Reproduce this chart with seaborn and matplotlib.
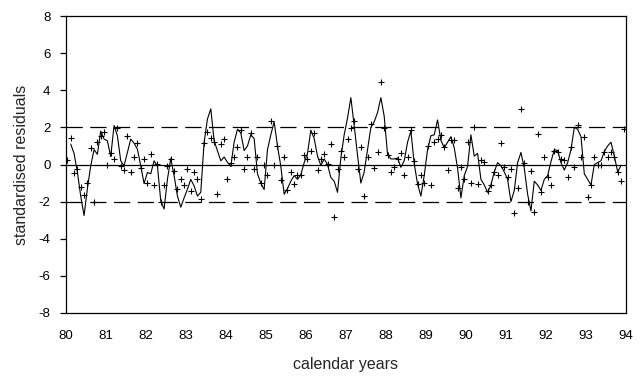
import numpy as np
import pandas as pd
import matplotlib
matplotlib.use("Agg")
import matplotlib.pyplot as plt
import seaborn as sns

# monthly standardised residuals (markers), Jan 1980 .. Dec 1993
residuals = [
    0.25, 1.41, -0.47, -0.22, -1.23, -1.66, -0.97, 0.9, -2.0, 1.22, 1.51, 1.73,
    0.0, 0.61, 0.29, 1.95, -0.07, -0.32, 1.51, -0.43, 0.43, 1.15, -0.18, 0.29,
    -1.0, 0.54, -1.12, 0.04, -2.0, -1.12, -0.07, 0.32, -0.34, -1.3, -0.8, -1.08,
    -0.22, -1.44, -0.43, -0.79, -1.84, 1.15, 1.77, 1.44, 1.19, -1.59, 1.12, 1.4,
    -0.79, 0.1, 0.4, 0.97, 1.86, -0.25, 0.43, 1.69, -0.25, 0.38, -1.0, -0.04,
    -0.58, 2.32, -0.04, 1.0, -0.83, 0.38, -1.4, -0.43, -1.06, -0.58, -0.54, 0.5,
    0.32, 0.74, 1.69, -0.29, 0.29, 0.56, 0.04, 1.08, -2.85, -0.25, 0.74, 0.38,
    1.4, 1.95, 2.36, -0.25, 0.92, -1.69, 0.38, 2.2, -0.18, 0.65, 4.43, 1.95,
    0.5, -0.43, -0.16, 0.29, 0.61, -0.54, 0.38, 1.84, 0.18, -1.04, -0.54, -1.0,
    1.0, -1.12, 1.22, 1.37, 1.59, 0.97, -0.29, 1.33, 1.33, -1.26, -0.16, -0.76,
    1.22, -0.97, 2.0, -1.06, 0.25, 0.14, -1.41, -1.12, -0.4, -0.58, 1.15, -0.11,
    -0.7, -0.22, -2.6, -1.26, 3.0, 0.1, -2.0, -0.36, -2.56, 1.62, -1.5, 0.38,
    -0.65, -1.12, 0.74, 0.65, 0.29, 0.25, -0.65, 0.97, -0.11, 2.13, 0.38, 1.46,
    -1.77, -1.12, 0.43, -0.04, -0.04, 0.68, 0.38, 0.68, 0.43, -0.4, -0.88, 1.91,
]

# smoothed residual line
smoothed = [
    np.nan, 1.1, 0.6, -0.4, -1.7, -2.75, -1.3, -0.07, 0.8, 0.55, 1.8, 1.37,
    1.28, 0.43, 2.1, 1.55, 0.2, -0.07, 0.65, 1.37, 1.15, 0.83, -0.07, -1.03,
    -0.43, -0.5, 0.2, -0.07, -1.96, -2.4, -0.8, 0.32, -0.6, -1.7, -2.3, -1.8,
    -1.33, -0.8, -1.15, -1.7, -1.5, 1.19, 2.45, 3.0, 1.28, 0.74, 0.2, 0.4,
    0.12, -0.1, 1.2, 1.9, 1.7, 0.75, 1.0, 1.6, 1.4, -0.5, -1.0, -1.35,
    0.8, 1.6, 2.3, 1.0, -0.1, -1.6, -1.3, -0.9, -0.6, -0.8, -0.55, 0.1,
    0.6, 1.85, 1.4, 0.45, -0.05, 0.3, 0.0, -0.7, -0.9, -1.5, 0.35, 1.6,
    2.5, 3.6, 2.1, 0.5, -1.0, -0.4, 0.8, 2.0, 2.3, 2.8, 3.6, 2.6,
    0.55, 0.3, 0.3, 0.35, -0.15, 0.2, 1.2, 1.8, 0.05, -1.05, -1.7, -0.6,
    0.8, 1.55, 1.6, 2.4, 1.3, 0.9, 1.2, 1.5, 0.9, -0.2, -1.8, -0.6,
    -0.1, 1.6, 0.45, 0.6, -0.8, -1.1, -1.5, -1.1, -0.4, 0.1, -0.07, -0.4,
    -0.8, -2.0, -1.4, 0.1, 0.65, -0.2, -1.6, -2.5, -0.9, -1.1, -1.4, -0.8,
    -0.6, 0.15, 0.8, 0.75, 0.1, -0.3, 0.1, 0.8, 2.0, 1.9, 1.5, -0.5,
    -0.8, -1.1, 0.0, 0.1, 0.2, 0.7, 1.0, 1.2, 0.45, -0.4, -0.05, np.nan,
]

start_year = 80
x_ticks = list(range(80, 95))
y_ticks = list(range(-8, 9, 2))

months = np.arange(len(residuals))
df = pd.DataFrame({
    "year": start_year + (months + 0.5) / 12.0,
    "resid": residuals,
    "smooth": smoothed,
})

sns.set_style("white")
plt.rcParams["font.family"] = ["Liberation Sans", "DejaVu Sans"]

fig = plt.figure(figsize=(6.41, 3.84), dpi=100)
ax = fig.add_axes([0.1025, 0.1849, 0.8741, 0.7734])

ax.axhline(0, color="black", lw=0.9, zorder=1)
ax.axhline(2, color="black", lw=0.9, dashes=(13, 6), zorder=1)
ax.axhline(-2, color="black", lw=0.9, dashes=(13, 6), zorder=1)

sns.lineplot(data=df, x="year", y="smooth", ax=ax, color="black", lw=0.8,
             estimator=None, sort=False, zorder=2)
sns.scatterplot(data=df, x="year", y="resid", ax=ax, marker="+", color="black",
                s=24, linewidth=0.8, zorder=3)

ax.set_xlim(80, 94)
ax.set_ylim(-8, 8)
ax.set_xticks(x_ticks)
ax.set_xticklabels([str(t) for t in x_ticks])
ax.set_yticks(y_ticks)
ax.set_yticklabels([str(t) for t in y_ticks])

for s in ax.spines.values():
    s.set_visible(True)
    s.set_color("black")
    s.set_linewidth(0.9)

ax.tick_params(axis="y", direction="out", length=4, width=0.9, left=True,
               labelsize=9.5, pad=7, colors="black")
ax.tick_params(axis="x", length=0, labelsize=9.5, pad=12, colors="black")

ax.set_xlabel("calendar years", fontsize=11.5, labelpad=11)
ax.set_ylabel("standardised residuals", fontsize=11.5, labelpad=7)

fig.savefig("out.png", dpi=100)
